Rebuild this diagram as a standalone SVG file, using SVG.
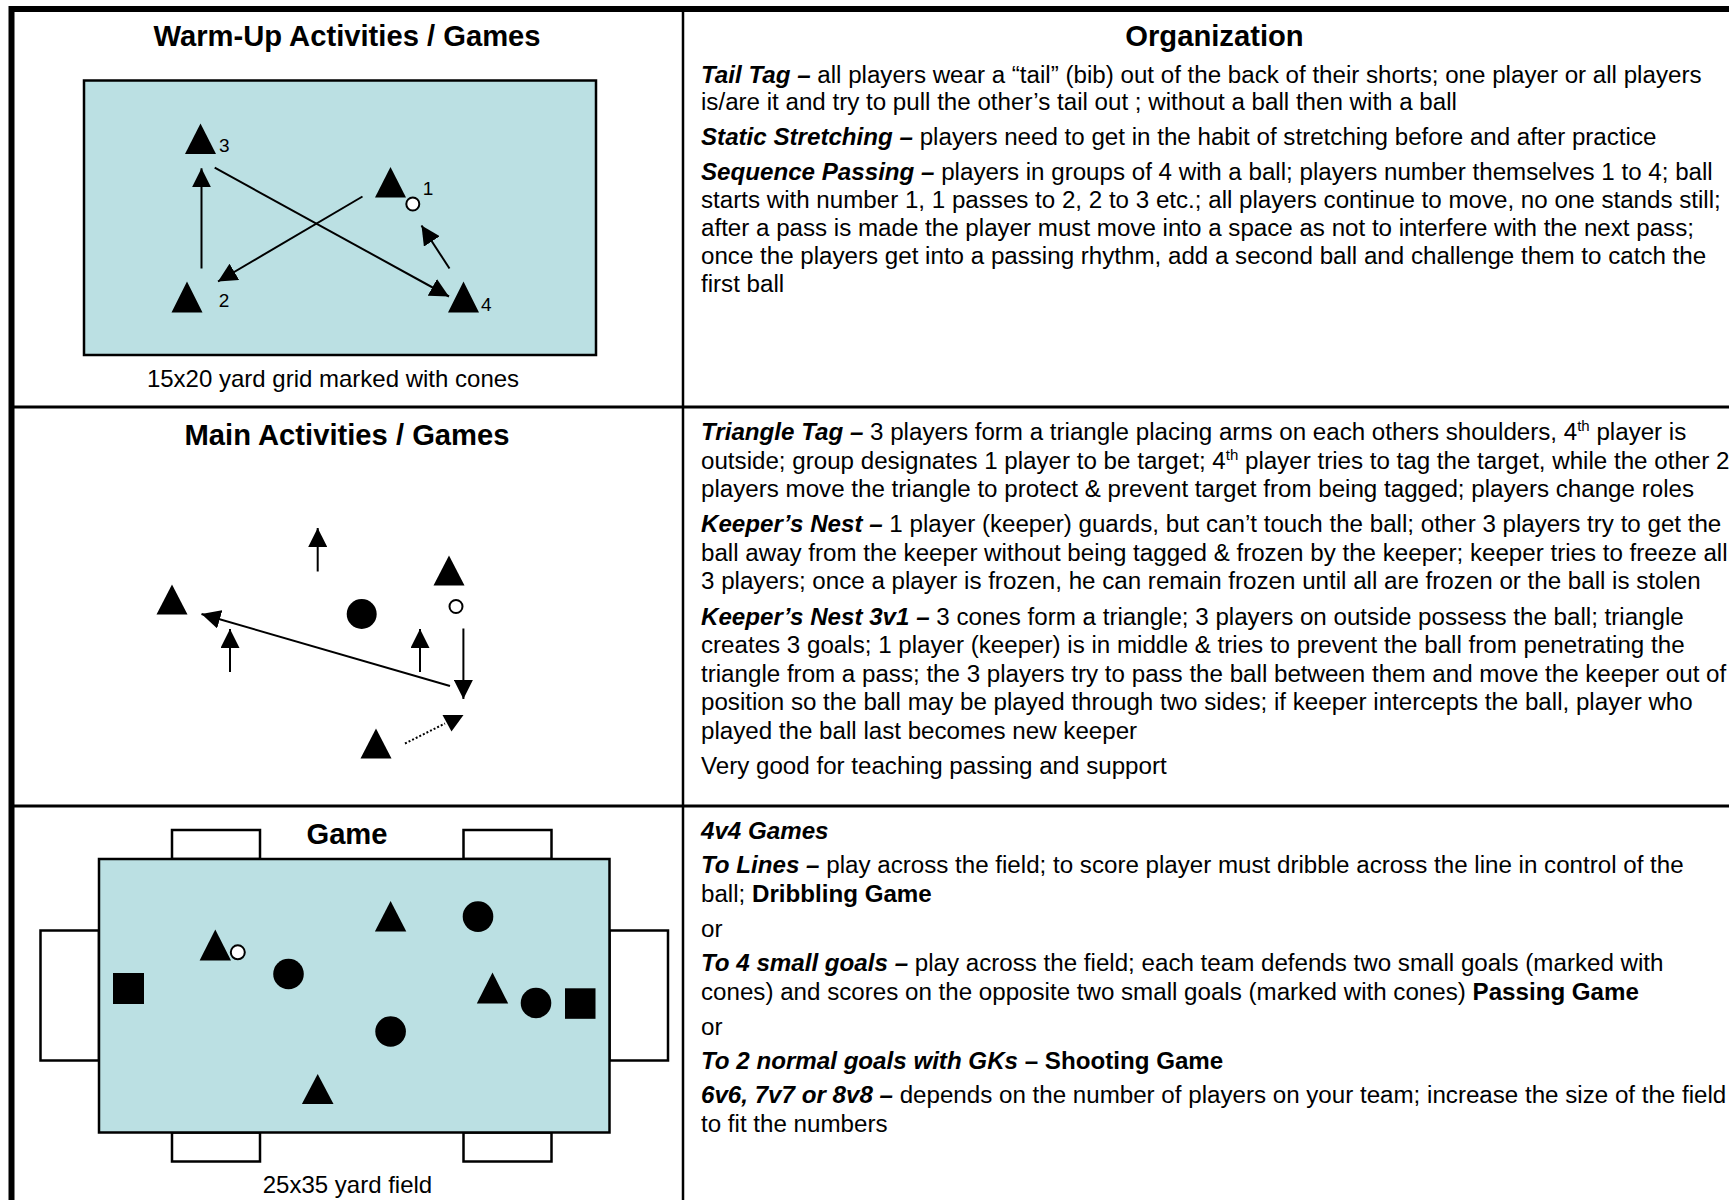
<svg xmlns="http://www.w3.org/2000/svg" width="1729" height="1200" viewBox="0 0 1729 1200">
<style>
text{font-family:"Liberation Sans",Arial,Helvetica,sans-serif;fill:#000}
.title{font-size:29.2px;font-weight:bold;text-anchor:middle}
.body{font-size:24.15px}
.cap{font-size:24px;text-anchor:middle}
.lbl{font-size:19px}
.bi{font-weight:bold;font-style:italic}
.b{font-weight:bold}
.sup{font-size:15px}
.field{fill:#BBE0E3;stroke:#000;stroke-width:2.5}
.goal{fill:#fff;stroke:#000;stroke-width:2.5}
.p{fill:#000}
.ball{fill:#fff;stroke:#000;stroke-width:2}
.arr{stroke:#000;stroke-width:2;fill:none;marker-end:url(#ah)}
.grid{stroke:#000;fill:none}
</style>
<defs>
<marker id="ah" markerUnits="userSpaceOnUse" markerWidth="19" markerHeight="19" refX="18" refY="9" orient="auto" viewBox="0 0 18 18">
<path d="M0,0 L18,9 L0,18 z" fill="#000"/>
</marker>
</defs>
<rect width="1729" height="1200" fill="#fff"/>

<g id="table">
<rect class="grid" x="11.5" y="9" width="1740" height="1220" stroke-width="6"/>
<line class="grid" x1="683" y1="9" x2="683" y2="1200" stroke-width="2.5"/>
<line class="grid" x1="11" y1="407" x2="1729" y2="407" stroke-width="3"/>
<line class="grid" x1="11" y1="806" x2="1729" y2="806" stroke-width="3"/>
</g>

<g id="warmup-panel">
<text class="title" x="347" y="46">Warm-Up Activities / Games</text>
<rect class="field" x="84" y="80.5" width="512" height="274.5"/>
<text class="cap" x="333" y="387">15x20 yard grid marked with cones</text>
</g>
<g id="player-3"><polygon class="p" points="200.5,123.5 216,154 185,154"/><text class="lbl" x="219" y="152">3</text></g>
<g id="player-1"><polygon class="p" points="390.5,167 406,197.5 375,197.5"/><circle class="ball" cx="412.8" cy="204" r="6.5"/><text class="lbl" x="428" y="195" text-anchor="middle">1</text></g>
<g id="player-2"><polygon class="p" points="187,281.5 202.5,312.5 171.5,312.5"/><text class="lbl" x="224" y="306.5" text-anchor="middle">2</text></g>
<g id="player-4"><polygon class="p" points="463.5,281.5 479,312.5 448,312.5"/><text class="lbl" x="481" y="310.5">4</text></g>

<g id="main-panel">
<text class="title" x="347" y="445">Main Activities / Games</text>
</g>
<g id="main-player-left"><polygon class="p" points="172,584.5 187.5,614.5 156.5,614.5"/></g>
<g id="main-player-right"><polygon class="p" points="449,555.5 464.5,585.5 433.5,585.5"/><circle class="ball" cx="456" cy="606.5" r="6.5"/></g>
<g id="main-player-bottom"><polygon class="p" points="376,728.5 391.5,758.5 360.5,758.5"/></g>
<g id="main-defender"><circle class="p" cx="361.7" cy="614" r="15"/></g>

<g id="game-panel">
<text class="title" x="347" y="843.5">Game</text>
<rect class="goal" x="172" y="830" width="88" height="29"/>
<rect class="goal" x="463.5" y="830" width="88" height="29"/>
<rect class="goal" x="172" y="1132.5" width="88" height="29"/>
<rect class="goal" x="463.5" y="1132.5" width="88" height="29"/>
<rect class="goal" x="40.5" y="930.5" width="58.5" height="130"/>
<rect class="goal" x="609.5" y="930.5" width="58.5" height="130"/>
<rect class="field" x="99" y="859" width="510.5" height="273.5"/>
<text class="cap" x="347.5" y="1193">25x35 yard field</text>
</g>
<g id="game-attacker-ball"><polygon class="p" points="215.3,929.5 231,960.5 199.6,960.5"/><circle class="ball" cx="237.8" cy="952.3" r="7"/></g>
<g id="game-keeper-left"><rect class="p" x="113" y="973" width="31" height="31"/></g>
<g id="game-defender-1"><circle class="p" cx="288.5" cy="974" r="15.3"/></g>
<g id="game-attacker-2"><polygon class="p" points="390.6,901 406.3,931.5 374.9,931.5"/></g>
<g id="game-defender-2"><circle class="p" cx="478" cy="916.6" r="15.3"/></g>
<g id="game-attacker-3"><polygon class="p" points="492.5,972.6 508.2,1003.4 476.8,1003.4"/></g>
<g id="game-defender-3"><circle class="p" cx="536" cy="1003" r="15.3"/></g>
<g id="game-keeper-right"><rect class="p" x="565" y="988.3" width="30.5" height="30.5"/></g>
<g id="game-defender-4"><circle class="p" cx="390.6" cy="1031.5" r="15.3"/></g>
<g id="game-attacker-4"><polygon class="p" points="317.7,1074 333.5,1104 301.9,1104"/></g>

<g id="connectors">
<line class="arr" x1="201.5" y1="268.5" x2="201.5" y2="168.3"/>
<line class="arr" x1="214.7" y1="167.7" x2="449" y2="296.5"/>
<line class="arr" x1="362.5" y1="196.5" x2="218" y2="281.5"/>
<line class="arr" x1="449.5" y1="268.5" x2="421.5" y2="225.5"/>
<line class="arr" x1="317.7" y1="571.5" x2="317.7" y2="528"/>
<line class="arr" x1="230" y1="672" x2="230" y2="629"/>
<line class="arr" x1="420" y1="672" x2="420" y2="629"/>
<line class="arr" x1="463.4" y1="628.5" x2="463.4" y2="699"/>
<line class="arr" x1="450" y1="686" x2="201.5" y2="614"/>
<line x1="405" y1="743.5" x2="445" y2="723.5" stroke="#000" stroke-width="2" stroke-dasharray="2 2"/>
<polygon class="p" points="442.5,715 463.5,715 451.5,731.5"/>
</g>

<g id="organization-title">
<text class="title" x="1214.5" y="46">Organization</text>
</g>

<g id="warmup-text">
<text class="body" x="701" y="82.5"><tspan class="bi">Tail Tag –</tspan> all players wear a “tail” (bib) out of the back of their shorts; one player or all players</text>
<text class="body" x="701" y="110">is/are it and try to pull the other’s tail out ; without a ball then with a ball</text>
<text class="body" x="701" y="145"><tspan class="bi">Static Stretching –</tspan> players need to get in the habit of stretching before and after practice</text>
<text class="body" x="701" y="180"><tspan class="bi">Sequence Passing –</tspan> players in groups of 4 with a ball; players number themselves 1 to 4; ball</text>
<text class="body" x="701" y="208">starts with number 1, 1 passes to 2, 2 to 3 etc.; all players continue to move, no one stands still;</text>
<text class="body" x="701" y="236">after a pass is made the player must move into a space as not to interfere with the next pass;</text>
<text class="body" x="701" y="264">once the players get into a passing rhythm, add a second ball and challenge them to catch the</text>
<text class="body" x="701" y="292">first ball</text>
</g>

<g id="main-text">
<text class="body" x="701" y="440"><tspan class="bi">Triangle Tag –</tspan> 3 players form a triangle placing arms on each others shoulders, 4<tspan class="sup" dy="-9">th</tspan><tspan dy="9"> player is</tspan></text>
<text class="body" x="701" y="468.5">outside; group designates 1 player to be target; 4<tspan class="sup" dy="-9">th</tspan><tspan dy="9"> player tries to tag the target, while the other 2</tspan></text>
<text class="body" x="701" y="497">players move the triangle to protect &amp; prevent target from being tagged; players change roles</text>
<text class="body" x="701" y="532"><tspan class="bi">Keeper’s Nest –</tspan> 1 player (keeper) guards, but can’t touch the ball; other 3 players try to get the</text>
<text class="body" x="701" y="560.5">ball away from the keeper without being tagged &amp; frozen by the keeper; keeper tries to freeze all</text>
<text class="body" x="701" y="589">3 players; once a player is frozen, he can remain frozen until all are frozen or the ball is stolen</text>
<text class="body" x="701" y="625"><tspan class="bi">Keeper’s Nest 3v1 –</tspan> 3 cones form a triangle; 3 players on outside possess the ball; triangle</text>
<text class="body" x="701" y="653">creates 3 goals; 1 player (keeper) is in middle &amp; tries to prevent the ball from penetrating the</text>
<text class="body" x="701" y="681.5">triangle from a pass; the 3 players try to pass the ball between them and move the keeper out of</text>
<text class="body" x="701" y="710">position so the ball may be played through two sides; if keeper intercepts the ball, player who</text>
<text class="body" x="701" y="738.5">played the ball last becomes new keeper</text>
<text class="body" x="701" y="774">Very good for teaching passing and support</text>
</g>

<g id="game-text">
<text class="body" x="701" y="839"><tspan class="bi">4v4 Games</tspan></text>
<text class="body" x="701" y="873"><tspan class="bi">To Lines –</tspan> play across the field; to score player must dribble across the line in control of the</text>
<text class="body" x="701" y="902">ball; <tspan class="b">Dribbling Game</tspan></text>
<text class="body" x="701" y="936.5">or</text>
<text class="body" x="701" y="971"><tspan class="bi">To 4 small goals –</tspan> play across the field; each team defends two small goals (marked with</text>
<text class="body" x="701" y="999.5">cones) and scores on the opposite two small goals (marked with cones) <tspan class="b">Passing Game</tspan></text>
<text class="body" x="701" y="1034.5">or</text>
<text class="body" x="701" y="1069"><tspan class="bi">To 2 normal goals with GKs</tspan><tspan class="b"> – Shooting Game</tspan></text>
<text class="body" x="701" y="1102.5"><tspan class="bi">6v6, 7v7 or 8v8 –</tspan> depends on the number of players on your team; increase the size of the field</text>
<text class="body" x="701" y="1132">to fit the numbers</text>
</g>
</svg>
